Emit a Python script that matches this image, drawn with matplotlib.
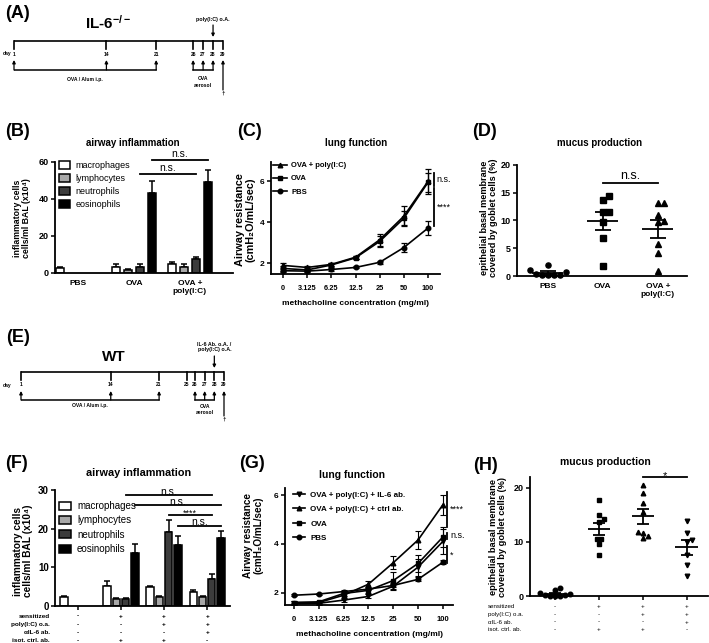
import numpy as np
import matplotlib
matplotlib.use('Agg')
import matplotlib.pyplot as plt
import matplotlib.transforms as mtransforms
from matplotlib.patches import Patch
from matplotlib.lines import Line2D

plt.rcParams['font.family'] = ['Liberation Sans', 'DejaVu Sans']
plt.rcParams['font.weight'] = 'bold'
plt.rcParams['axes.labelweight'] = 'bold'
plt.rcParams['mathtext.fontset'] = 'custom'
plt.rcParams['mathtext.rm'] = 'Liberation Sans:bold'
plt.rcParams['mathtext.bf'] = 'Liberation Sans:bold'
plt.rcParams['mathtext.it'] = 'Liberation Sans:bold:italic'

# ---- timelines ----
days_il6 = [1, 14, 21, 26, 27, 28, 29]
days_wt = [1, 14, 21, 25, 26, 27, 28, 29]
sens_days = [1, 14, 21]
aerosol_days = [26, 27, 28]
treat_day = 28
end_day = 29

cell_types = ['macrophages', 'lymphocytes', 'neutrophils', 'eosinophils']
cell_colors = ['white', '#a8a8a8', '#3c3c3c', 'black']

# ---- (B) airway inflammation, IL-6-/- ----
groups_b = ['PBS', 'OVA', 'OVA +\npoly(I:C)']
cells_b = np.array([[2.5, 0, 0, 0],
                    [3.1, 1.6, 3.4, 43.4],
                    [4.9, 3.4, 7.4, 49.4]])
err_b = np.array([[0.5, 0, 0, 0],
                  [1.6, 0.4, 1.5, 6.3],
                  [1.3, 1.5, 1.1, 6.3]])

# ---- (C) lung function, IL-6-/- ----
doses = ['0', '3.125', '6.25', '12.5', '25', '50', '100']
c_ovapoly = [1.9, 1.8, 1.95, 2.3, 3.15, 4.3, 6.0]
c_ovapoly_err = [0.12, 0.08, 0.08, 0.08, 0.3, 0.5, 0.6]
c_ova = [1.75, 1.68, 1.92, 2.27, 3.07, 4.2, 5.95]
c_ova_err = [0.1, 0.07, 0.08, 0.08, 0.25, 0.35, 0.45]
c_pbs = [1.64, 1.62, 1.7, 1.8, 2.05, 2.77, 3.72]
c_pbs_err = [0.08, 0.06, 0.05, 0.05, 0.06, 0.22, 0.35]

# ---- (D) mucus production, IL-6-/- ----
d_pbs = [0.2, 0.8, 0.1, 2.0, 0.2, 1.1, 0.3, 0.2]
d_ova = [14.5, 13.7, 11.6, 11.5, 9.7, 6.9, 1.8]
d_ovapoly = [13.2, 13.2, 11.0, 9.9, 9.7, 5.7, 4.2, 0.9]

# ---- (F) airway inflammation, WT ----
cells_f = np.array([[2.4, 0, 0, 0],
                    [5.1, 1.8, 1.8, 13.6],
                    [4.8, 2.4, 19.2, 15.9],
                    [3.7, 2.2, 7.1, 17.6]])
err_f = np.array([[0.3, 0, 0, 0],
                  [1.4, 0.3, 0.2, 2.5],
                  [0.3, 0.2, 3.0, 2.1],
                  [0.4, 0.3, 1.1, 1.9]])

# ---- (G) lung function, WT ----
g_il6 = [1.55, 1.57, 1.7, 1.85, 2.27, 3.05, 4.1]
g_il6_err = [0.05, 0.05, 0.08, 0.08, 0.15, 0.35, 0.5]
g_ctrl = [1.6, 1.6, 1.9, 2.35, 3.23, 4.16, 5.6]
g_ctrl_err = [0.05, 0.05, 0.15, 0.12, 0.27, 0.35, 0.4]
g_ova = [1.6, 1.63, 1.97, 2.1, 2.5, 3.2, 4.28]
g_ova_err = [0.05, 0.05, 0.12, 0.12, 0.35, 0.35, 0.4]
g_pbs = [1.9, 1.95, 2.05, 2.15, 2.3, 2.55, 3.25]
g_pbs_err = [0.05, 0.04, 0.05, 0.05, 0.08, 0.08, 0.08]

# ---- (H) mucus production, WT ----
h_pbs = [1.5, 0.5, 1.1, 0.3, 0.1, 0.1, 0.0, 0.0, 0.0]
h_ova = [17.8, 15.0, 14.3, 13.6, 10.5, 10.6, 9.6, 7.6]
h_ctrl = [20.6, 19.1, 17.2, 15.6, 11.9, 11.7, 11.1, 10.7]
h_il6 = [13.8, 11.7, 10.4, 10.0, 7.6, 5.7, 3.7]

table_rows = ['sensitized', 'poly(I:C) o.a.', '\u03b1IL-6 ab.', 'isot. ctrl. ab.']
table_signs = [['-', '+', '+', '+'],
               ['-', '-', '+', '+'],
               ['-', '-', '-', '+'],
               ['-', '+', '+', '-']]

W, H = 709, 643
fig = plt.figure(figsize=(W / 100, H / 100), dpi=100)


def box(l, t, r, b):
    return [l / W, 1 - b / H, (r - l) / W, (b - t) / H]


def ftext(x, y, s, **kw):
    kw.setdefault('ha', 'center')
    kw.setdefault('va', 'center')
    return fig.text(x / W, 1 - y / H, s, **kw)


def style(ax, lw=1.3):
    for s in ['top', 'right']:
        ax.spines[s].set_visible(False)
    for s in ['left', 'bottom']:
        ax.spines[s].set_linewidth(lw)
    ax.tick_params(width=1.1, length=3, pad=1.5)


def fwd(d):
    d = np.asarray(d, dtype=float)
    return np.where(d < 25.5, d, 25.5 + 1.4 * (d - 25.5))


def inv(u):
    u = np.asarray(u, dtype=float)
    return np.where(u < 25.5, u, 25.5 + (u - 25.5) / 1.4)


def timeline(rect, rows, days, y0, treat_label, title, title_xy, e):
    ax = fig.add_axes(box(rect[0], rows[0], rect[1], rows[1]))
    ax.set_xscale('function', functions=(fwd, inv))
    ax.set_xlim(1, 29)
    ax.set_ylim(rows[1], rows[0])
    ax.axis('off')
    ax.plot([days[0], days[-1]], [y0, y0], color='k', lw=1.2, solid_capstyle='butt', clip_on=False)
    for d in days:
        ax.plot([d, d], [y0, y0 + 8], color='k', lw=1.2, clip_on=False)
        ax.text(d, y0 + 13, str(d), fontsize=3.6, ha='center', va='center')
    ap = dict(arrowstyle='-|>', lw=0.9, color='k', mutation_scale=4.5, shrinkA=0, shrinkB=0)
    for d in sens_days + aerosol_days:
        ax.annotate('', xy=(d, y0 + 19), xytext=(d, y0 + e[0]), arrowprops=ap, annotation_clip=False)
    ax.plot([sens_days[0], sens_days[-1]], [y0 + e[0]] * 2, color='k', lw=1.1)
    ax.plot([aerosol_days[0], aerosol_days[-1]], [y0 + e[0]] * 2, color='k', lw=1.1)
    ax.text(np.mean([sens_days[0], sens_days[-1]]), y0 + e[1], 'OVA / Alum i.p.', fontsize=3.6,
            ha='center', va='center')
    ax.text(aerosol_days[1], y0 + e[1], 'OVA', fontsize=3.6, ha='center', va='center')
    ax.text(aerosol_days[1], y0 + e[1] + 6.5, 'aerosol', fontsize=3.6, ha='center', va='center')
    ax.annotate('', xy=(end_day, y0 + 19), xytext=(end_day, y0 + e[2]), arrowprops=ap,
                annotation_clip=False)
    ax.text(end_day, y0 + e[2] + 3, '\u2020', fontsize=4.5, ha='center', va='center')
    ax.text(treat_day, y0 - e[3], treat_label, fontsize=3.9, ha='center', va='center', linespacing=1.1)
    ax.annotate('', xy=(treat_day, y0 - 4), xytext=(treat_day, y0 - 16), arrowprops=ap,
                annotation_clip=False)
    ftext(title_xy[0], title_xy[1], title, fontsize=11, fontweight='bold')
    ftext(7, y0 + 13, 'day', fontsize=3.6)


def swarm(vals, px_x, px_y, diam):
    vals = np.asarray(vals, dtype=float)
    offs = np.zeros(len(vals))
    placed = []
    step = diam / 2.0
    for i in np.argsort(vals):
        y = vals[i] * px_y
        for k in range(40):
            dx = ((k + 1) // 2) * step * (1 if k % 2 else -1) if k else 0.0
            if all(np.hypot(dx - px, y - py) >= diam for px, py in placed):
                break
        placed.append((dx, y))
        offs[i] = dx / px_x
    return offs


def dot_panel(ax, series, markers, px_x, px_y, ms, mean_w, sem_w, spread):
    for i, (vals, m) in enumerate(zip(series, markers)):
        offs = swarm(vals, px_x, px_y, ms * spread)
        ax.plot(i + offs, vals, ls='none', marker=m, ms=ms, color='k', clip_on=False, zorder=3)
        v = np.asarray(vals)
        mean = v.mean()
        sem = v.std(ddof=1) / np.sqrt(len(v))
        ax.hlines(mean, i - mean_w, i + mean_w, color='k', lw=1.3, zorder=4)
        ax.hlines([mean - sem, mean + sem], i - sem_w, i + sem_w, color='k', lw=1.3, zorder=4)
        ax.vlines(i, mean - sem, mean + sem, color='k', lw=1.3, zorder=4)


def bar_panel(ax, vals, errs, spacing, width):
    n_g, n_c = vals.shape
    xg = np.arange(n_g)
    for j in range(n_c):
        x = xg + (j - 1.5) * spacing
        ok = vals[:, j] > 0
        ax.bar(x[ok], vals[ok, j], width, color=cell_colors[j], edgecolor='k', lw=1.1, zorder=2)
        ok = errs[:, j] > 0
        ax.errorbar(x[ok], vals[ok, j], yerr=[np.zeros(ok.sum()), errs[ok, j]], fmt='none',
                    ecolor='k', elinewidth=1.1, capsize=2.2, capthick=1.1, zorder=1)
    return xg


def sig_h(ax, x0, x1, y, label, size, dy=0.0):
    ax.plot([x0, x1], [y, y], color='k', lw=1.3, clip_on=False)
    ax.text((x0 + x1) / 2, y + dy, label, fontsize=size, fontweight='normal', ha='center', va='bottom')


def sig_v(ax, x, y0, y1, label, size):
    ax.plot([x, x], [y0, y1], color='k', lw=1.3, clip_on=False)
    ax.text(x + 0.12, (y0 + y1) / 2, label, fontsize=size, fontweight='normal', ha='left', va='center')


# ---------- panel labels ----------
for lab, (x, y) in {'(A)': (18, 13), '(B)': (18, 131), '(C)': (250, 131), '(D)': (484, 131),
                    '(E)': (18, 338), '(F)': (17, 464), '(G)': (252, 464), '(H)': (485, 466)}.items():
    ftext(x, y, lab, fontsize=13, fontweight='bold')

# ---------- (A) and (E) timelines ----------
timeline((14, 223), (0, 110), days_il6, 41, 'poly(I:C) o.A.', r'IL-6$^{-/-}$', (108, 23), (29, 38, 49, 21))
timeline((21, 224), (330, 430), days_wt, 372, 'IL-6 Ab. o.A. /\npoly(I:C) o.A.', 'WT', (114, 357),
         (28, 34, 44, 25))

# ---------- (B) ----------
axB = fig.add_axes(box(55, 162, 233, 273))
style(axB)
bar_panel(axB, cells_b, err_b, 0.214, 0.15)
axB.set_xlim(-0.41, 2.77)
axB.set_ylim(0, 60)
axB.set_yticks([0, 20, 40, 60])
axB.set_xticks(range(len(groups_b)))
axB.set_xticklabels(groups_b, fontsize=6)
axB.tick_params(axis='x', length=0, pad=5)
axB.tick_params(axis='y', labelsize=6.5)
axB.legend(handles=[Patch(facecolor=c, edgecolor='k', lw=1.1, label=t) for c, t in zip(cell_colors, cell_types)],
           loc='upper left', bbox_to_anchor=(0.02, 1.01), frameon=False, borderaxespad=0, borderpad=0,
           prop={'size': 6.5, 'weight': 'normal'}, handlelength=1.3, handleheight=0.9,
           labelspacing=0.45, handletextpad=0.6)
sig_h(axB, 1.32, 2.32, 61, 'n.s.', 7.5, 0.5)
sig_h(axB, 1.107, 2.107, 53.3, 'n.s.', 7.5, 0.5)
ftext(133, 143, 'airway inflammation', fontsize=7)
ftext(22, 218, 'inflammatory cells\ncells/ml BAL (x10\u2074)', fontsize=6.3, rotation=90, linespacing=1.1)

# ---------- (C) ----------
axC = fig.add_axes(box(271, 162, 440, 274))
style(axC)
x = np.arange(len(doses))
for ys, es, m, lab in [(c_ovapoly, c_ovapoly_err, '^', 'OVA + poly(I:C)'),
                       (c_ova, c_ova_err, 's', 'OVA'),
                       (c_pbs, c_pbs_err, 'o', 'PBS')]:
    axC.errorbar(x, ys, yerr=es, color='k', marker=m, ms=3.3, lw=1.2, elinewidth=0.9,
                 capsize=2.2, capthick=0.9, label=lab)
axC.set_xlim(-0.5, 6.5)
axC.set_ylim(1.48, 6.95)
axC.set_yticks([2, 4, 6])
axC.set_xticks(x)
axC.set_xticklabels(doses, fontsize=5.3)
axC.tick_params(axis='y', labelsize=6)
axC.tick_params(axis='x', pad=5)
axC.set_xlabel('methacholine concentration (mg/ml)', fontsize=6, labelpad=6)
axC.legend(handles=[Line2D([], [], color='k', marker=m, ms=3.3, lw=1.2, label=t)
                    for m, t in [('^', 'OVA + poly(I:C)'), ('s', 'OVA'), ('o', 'PBS')]],
           loc='upper left', bbox_to_anchor=(0.01, 1.0), frameon=False, borderaxespad=0, borderpad=0,
           prop={'size': 5.5, 'weight': 'bold'}, handlelength=1.9, labelspacing=0.75, handletextpad=0.5)
sig_v(axC, 6.24, 5.8, 6.4, 'n.s.', 6.5)
sig_v(axC, 6.24, 3.8, 5.7, '****', 6.5)
ftext(356, 143, 'lung function', fontsize=7)
ftext(245, 220, 'Airway resistance\n(cmH\u2082O/mL/sec)', fontsize=7.8, rotation=90, linespacing=1.1)

# ---------- (D) ----------
axD = fig.add_axes(box(517, 165, 687, 276))
style(axD)
dot_panel(axD, [d_pbs, d_ova, d_ovapoly], ['o', 's', '^'], 55, 5.54, 3.7, 0.28, 0.15, 1.6)
axD.set_xlim(-0.56, 2.53)
axD.set_ylim(0, 20)
axD.set_yticks([0, 5, 10, 15, 20])
axD.set_xticks(range(3))
axD.set_xticklabels(groups_b, fontsize=6)
axD.tick_params(axis='x', length=0, pad=5)
axD.tick_params(axis='y', labelsize=6.5)
sig_h(axD, 1, 2, 16.8, 'n.s.', 9, 0.2)
ftext(600, 143, 'mucus production', fontsize=7)
ftext(489, 218, 'epithelial basal membrane\ncovered by goblet cells (%)', fontsize=6.6, rotation=90,
      linespacing=1.1)

# ---------- (F) ----------
axF = fig.add_axes(box(55, 490, 230, 606))
style(axF)
xg = bar_panel(axF, cells_f, err_f, 0.216, 0.17)
axF.set_xlim(-0.53, 3.53)
axF.set_ylim(0, 30)
axF.set_yticks([0, 10, 20, 30])
axF.set_xticks(xg)
axF.set_xticklabels([])
axF.tick_params(axis='y', labelsize=7)
axF.legend(handles=[Patch(facecolor=c, edgecolor='k', lw=1.1, label=t) for c, t in zip(cell_colors, cell_types)],
           loc='upper left', bbox_to_anchor=(0.02, 0.905), frameon=False, borderaxespad=0, borderpad=0,
           prop={'size': 7, 'weight': 'normal'}, handlelength=1.3, handleheight=0.9,
           labelspacing=0.45, handletextpad=0.6)
off = 0.216
sig_h(axF, 1 + off / 2, 3 + off / 2, 28.6, 'n.s.', 7.5, -0.4)
sig_h(axF, 1 + 1.5 * off, 3 + 1.5 * off, 26.1, 'n.s.', 7.5, -0.4)
sig_h(axF, 2 + off / 2, 3 + off / 2, 23.5, '****', 6.5, -0.8)
sig_h(axF, 2 + 1.5 * off, 3 + 1.5 * off, 20.8, 'n.s.', 7.5, -0.4)
ftext(139, 473, 'airway inflammation', fontsize=7.8)
ftext(23, 551, 'inflammatory cells\ncells/ml BAL (x10\u2074)', fontsize=7.3, rotation=90, linespacing=1.1)
trF = mtransforms.blended_transform_factory(axF.transData, fig.transFigure)
row_y = [616, 624.5, 633, 641]
for r, (lab, signs) in enumerate(zip(table_rows, table_signs)):
    ftext(50, row_y[r], lab, fontsize=4.6, ha='right')
    for i, s in enumerate(signs):
        axF.text(xg[i], 1 - row_y[r] / H, s, transform=trF, fontsize=4.6, ha='center', va='center')

# ---------- (G) ----------
axG = fig.add_axes(box(285, 488, 453, 605))
style(axG)
g_series = [(g_il6, g_il6_err, 'v', 'OVA + poly(I:C) + IL-6 ab.'),
            (g_ctrl, g_ctrl_err, '^', 'OVA + poly(I:C) + ctrl ab.'),
            (g_ova, g_ova_err, 's', 'OVA'),
            (g_pbs, g_pbs_err, 'o', 'PBS')]
for ys, es, m, lab in g_series:
    axG.errorbar(x, ys, yerr=es, color='k', marker=m, ms=3.3, lw=1.2, elinewidth=0.8,
                 capsize=2.2, capthick=0.8)
axG.set_xlim(-0.36, 6.41)
axG.set_ylim(1.5, 6.29)
axG.set_yticks([2, 4, 6])
axG.set_xticks(x)
axG.set_xticklabels(doses, fontsize=5.5)
axG.tick_params(axis='y', labelsize=6)
axG.tick_params(axis='x', pad=5)
axG.set_xlabel('methacholine concentration (mg/ml)', fontsize=6, labelpad=6)
axG.legend(handles=[Line2D([], [], color='k', marker=m, ms=3.3, lw=1.2, label=t) for _, _, m, t in g_series],
           loc='upper left', bbox_to_anchor=(0.05, 0.975), frameon=False, borderaxespad=0, borderpad=0,
           prop={'size': 5.8, 'weight': 'bold'}, handlelength=1.5, labelspacing=0.85, handletextpad=0.6)
sig_v(axG, 6.17, 4.7, 6.14, '****', 6.5)
sig_v(axG, 6.17, 4.2, 4.46, 'n.s.', 6.5)
sig_v(axG, 6.17, 3.2, 3.9, '*', 6.5)
ftext(352, 475, 'lung function', fontsize=7.5)
ftext(253, 535, 'Airway resistance\n(cmH\u2082O/mL/sec)', fontsize=7.2, rotation=90, linespacing=1.1)

# ---------- (H) ----------
axH = fig.add_axes(box(530, 477, 708, 596))
style(axH)
dot_panel(axH, [h_pbs, h_ova, h_ctrl, h_il6], ['o', 's', '^', 'v'], 44, 5.4, 3.3, 0.26, 0.13, 1.5)
axH.set_xlim(-0.57, 3.48)
axH.set_ylim(0, 22)
axH.set_yticks([0, 10, 20])
axH.set_xticks(range(4))
axH.set_xticklabels([])
axH.tick_params(axis='y', labelsize=6.5)
sig_h(axH, 2, 3, 22, '*', 8, -0.8)
ftext(605, 462, 'mucus production', fontsize=7.5)
ftext(498, 537, 'epithelial basal membrane\ncovered by goblet cells (%)', fontsize=6.7, rotation=90,
      linespacing=1.1)
trH = mtransforms.blended_transform_factory(axH.transData, fig.transFigure)
row_yh = [607, 614.5, 622, 629.5]
for r, (lab, signs) in enumerate(zip(table_rows, table_signs)):
    ftext(488, row_yh[r], lab, fontsize=4.4, ha='left', fontweight='normal')
    for i, s in enumerate(signs):
        axH.text(i, 1 - row_yh[r] / H, s, transform=trH, fontsize=4.6, ha='center', va='center',
                 fontweight='normal')

fig.savefig('out.png', dpi=100)
